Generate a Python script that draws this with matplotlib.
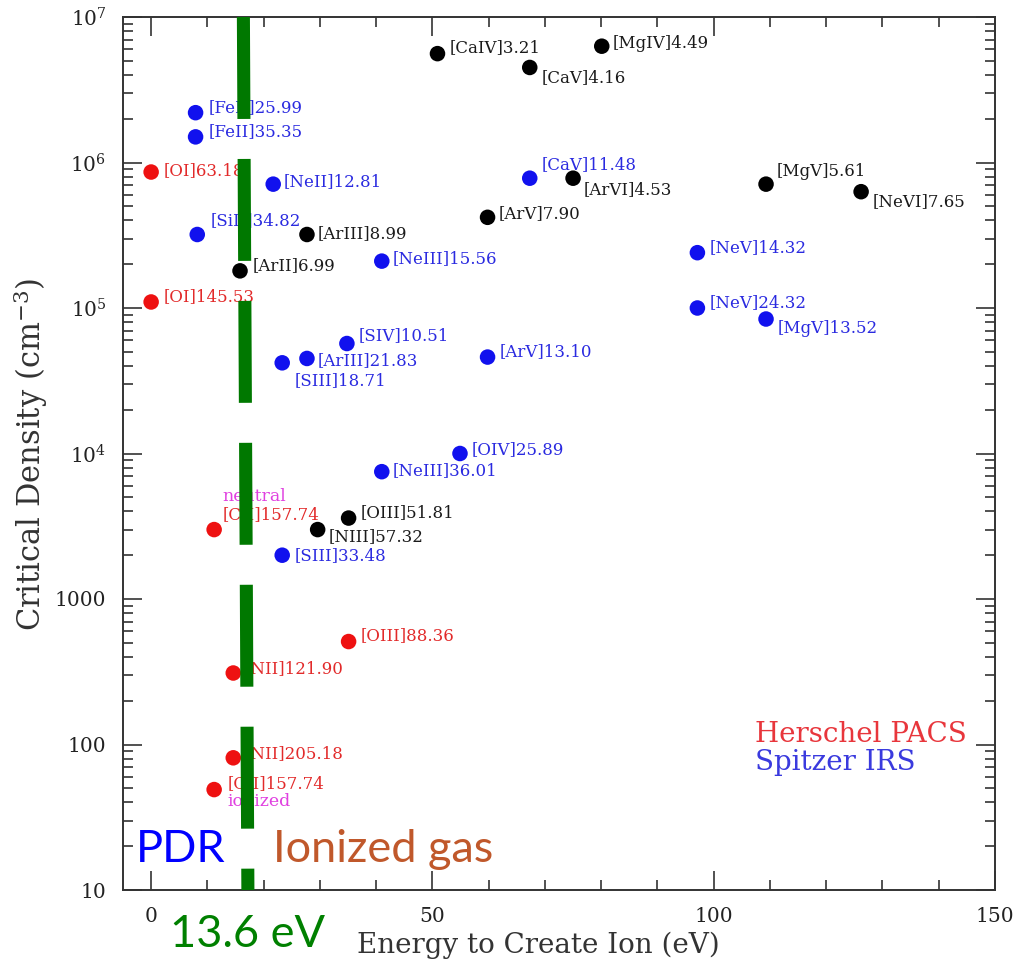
import matplotlib
matplotlib.use("Agg")
import matplotlib.pyplot as plt
from matplotlib.ticker import FixedLocator, FixedFormatter, MultipleLocator, LogLocator, NullFormatter

plt.rcParams['mathtext.fontset'] = 'dejavuserif'
plt.rcParams['lines.scale_dashes'] = False

# ---------------- data ----------------
ions = ["[FeII]25.99", "[FeII]35.35", "[OI]63.18", "[NeII]12.81", "[SiII]34.82",
        "[ArIII]8.99", "[ArII]6.99", "[NeIII]15.56", "[OI]145.53", "[CaIV]3.21",
        "[CaV]4.16", "[MgIV]4.49", "[CaV]11.48", "[ArVI]4.53", "[ArV]7.90",
        "[MgV]5.61", "[NeVI]7.65", "[NeV]14.32", "[NeV]24.32", "[MgV]13.52",
        "[SIV]10.51", "[ArIII]21.83", "[SIII]18.71", "[ArV]13.10", "[OIV]25.89",
        "[NeIII]36.01", "[CII]157.74", "[OIII]51.81", "[NIII]57.32", "[SIII]33.48",
        "[OIII]88.36", "[NII]121.90", "[NII]205.18", "[CII]157.74"]
energy_ev = [7.9, 7.9, 0.0, 21.7, 8.2,
             27.7, 15.8, 41.0, 0.0, 50.9,
             67.3, 80.1, 67.3, 75.0, 59.8,
             109.3, 126.2, 97.1, 97.1, 109.3,
             34.8, 27.7, 23.3, 59.8, 54.9,
             41.0, 11.2, 35.1, 29.6, 23.3,
             35.1, 14.6, 14.6, 11.2]
crit_density = [2.2e6, 1.5e6, 8.6e5, 7.1e5, 3.2e5,
                3.2e5, 1.8e5, 2.1e5, 1.1e5, 5.6e6,
                4.5e6, 6.3e6, 7.8e5, 7.8e5, 4.2e5,
                7.1e5, 6.3e5, 2.4e5, 1.0e5, 8.4e4,
                5.7e4, 4.5e4, 4.2e4, 4.6e4, 1.0e4,
                7.5e3, 3.0e3, 3.6e3, 3.0e3, 2.0e3,
                5.1e2, 3.1e2, 81, 49]
instrument = ["IRS", "IRS", "PACS", "IRS", "IRS",
              "other", "other", "IRS", "PACS", "other",
              "other", "other", "IRS", "other", "other",
              "other", "other", "IRS", "IRS", "IRS",
              "IRS", "IRS", "IRS", "IRS", "IRS",
              "IRS", "PACS", "other", "other", "IRS",
              "PACS", "PACS", "PACS", "PACS"]
phase_notes = {26: "neutral", 33: "ionized"}
threshold_x = (16.4, 17.2)   # drawn threshold bar (top, bottom)

x_ticks = [0, 50, 100, 150]
y_ticks = [10, 100, 1000, 1e4, 1e5, 1e6, 1e7]
y_tick_labels = ["10", "100", "1000", r"$10^{4}$", r"$10^{5}$", r"$10^{6}$", r"$10^{7}$"]

# ---------------- styles ----------------
dot_colors = {"PACS": "#ee1111", "IRS": "#1111ee", "other": "#000000"}
text_colors = {"PACS": "#e22a2a", "IRS": "#2a2ae0", "other": "#1a1a1a"}
label_offsets = [(13, 5), (13, 5), (12, 1), (10, 3), (13, 14),
                 (11, 1), (13, 5), (11, 3), (12, 5), (12, 6),
                 (12, -10), (11, 3), (12, 14), (11, -11), (11, 4),
                 (11, 13), (12, -10), (12, 5), (12, 5), (12, -9),
                 (12, 8), (11, -2), (12, -18), (12, 5), (12, 4),
                 (11, 1), (8, 15), (12, 5), (11, -7), (12, 0),
                 (12, 6), (11, 4), (11, 4), (13, 6)]
note_offsets = {26: (8, 33), 33: (13, -12)}

W, H = 1018, 964
fig = plt.figure(figsize=(W / 100, H / 100), dpi=100)
ax = fig.add_axes([123 / W, (H - 890) / H, (995 - 123) / W, (890 - 17) / H])
ax.set_yscale('log')
ax.set_xlim(-5, 150)
ax.set_ylim(10, 1e7)

serif = 'DejaVu Serif'
frame_col = '#333333'

for i in range(len(ions)):
    inst = instrument[i]
    ax.scatter(energy_ev[i], crit_density[i], s=125, color=dot_colors[inst],
               edgecolors='none', zorder=3)
    ax.annotate(ions[i], (energy_ev[i], crit_density[i]), xytext=label_offsets[i],
                textcoords='offset pixels', ha='left', va='center',
                fontsize=12, family=serif, color=text_colors[inst], zorder=4)
for i, note in phase_notes.items():
    ax.annotate(note, (energy_ev[i], crit_density[i]), xytext=note_offsets[i],
                textcoords='offset pixels', ha='left', va='center',
                fontsize=12.5, family=serif, color='#e040e0', zorder=4)

# threshold bar (dashed, thick)
ax.plot(threshold_x, [1e7, 10], color='#007800', lw=9.4, solid_capstyle='butt',
        dash_capstyle='butt', dashes=(73.4, 28.8), zorder=6)

# legend text
fig.text(755 / W, 1 - 735 / H, "Herschel PACS",
         fontsize=20, family=serif, color='#e8363c', ha='left', va='center')
fig.text(755 / W, 1 - 763 / H, "Spitzer IRS",
         fontsize=20, family=serif, color='#3a3ade', ha='left', va='center')

# big annotations
big = dict(family='Lato', fontsize=32.5, ha='left', va='baseline', zorder=10)
fig.text(136 / W, 1 - 862 / H, "PDR", color='#0000ff', **big)
fig.text(273 / W, 1 - 862 / H, "Ionized gas", color='#c0582b', **big)
fig.text(170 / W, 1 - 947 / H, "13.6 eV", color='#008000', **big)

# axes styling
for sp in ax.spines.values():
    sp.set_color(frame_col)
    sp.set_linewidth(1.4)
ax.xaxis.set_major_locator(FixedLocator(x_ticks))
ax.xaxis.set_minor_locator(MultipleLocator(10))
ax.yaxis.set_major_locator(FixedLocator(y_ticks))
ax.yaxis.set_major_formatter(FixedFormatter(y_tick_labels))
ax.yaxis.set_minor_locator(LogLocator(base=10, subs=range(2, 10)))
ax.yaxis.set_minor_formatter(NullFormatter())
ax.tick_params(which='both', direction='in', top=True, right=True, color=frame_col,
               width=1.2)
ax.tick_params(which='major', length=14, labelsize=14.5, pad=12)
ax.tick_params(which='minor', length=7)
for lab in ax.get_xticklabels() + ax.get_yticklabels():
    lab.set_family(serif)
    lab.set_color('#222222')

fig.text((357 + 720) / 2 / W, 1 - 945 / H, "Energy to Create Ion (eV)", family=serif,
         fontsize=20, color='#333333', ha='center', va='center')
fig.text(31 / W, 1 - 454 / H, r"Critical Density (cm$^{-3}$)", family=serif,
         fontsize=22, color='#333333', ha='center', va='center', rotation=90)

fig.savefig("out.png", dpi=100)
